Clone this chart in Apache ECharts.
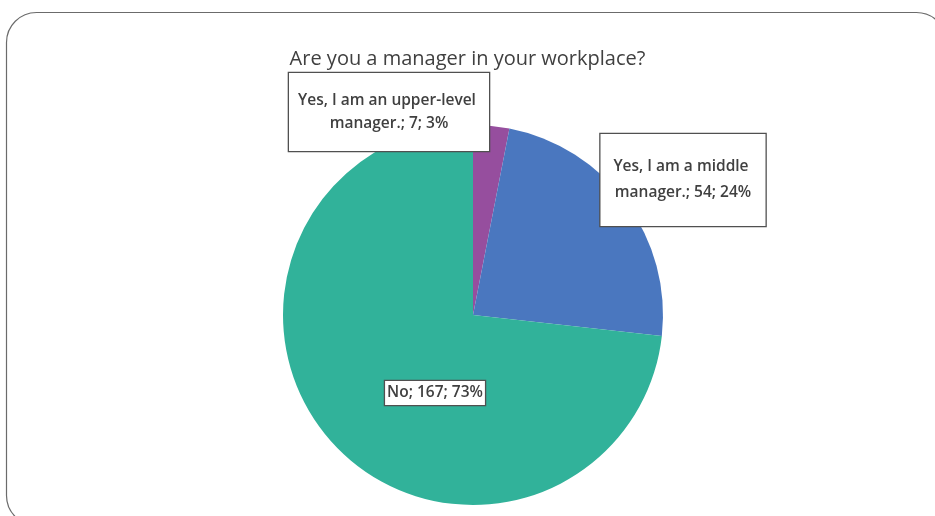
<!DOCTYPE html>
<html>
<head>
<meta charset="utf-8">
<script src="https://cdn.jsdelivr.net/npm/echarts@6/dist/echarts.min.js"></script>
<style>
html,body{margin:0;padding:0;background:#fff;}
#chart{width:935px;height:516px;}
</style>
</head>
<body>
<div id="chart"></div>
<script>
const titleText = "Are you a manager in your workplace?";
const categories = ["Yes, I am an upper-level manager.", "Yes, I am a middle manager.", "No"];
const counts = [7, 54, 167];
const percents = [3, 24, 73];
const colors = ["#964e9e", "#4a77bf", "#31b29a"];

// label box placement (centre of each box) and wrap widths
const labelCentres = [[389, 112], [683, 180], [435, 393]];
const labelBoxes = [
  {width: 186, padding: [16, 7], lineHeight: 23},
  {width: 151, padding: [20, 7], lineHeight: 26},
  {width: null, padding: [3, 2], lineHeight: 18}
];

const chart = echarts.init(document.getElementById('chart'));
const data = categories.map((c, i) => {
  const b = labelBoxes[i];
  const lab = {padding: b.padding, lineHeight: b.lineHeight};
  if (b.width) { lab.width = b.width; lab.overflow = 'break'; }
  return {name: c, value: counts[i], itemStyle: {color: colors[i]}, label: lab};
});

chart.setOption({
  animation: false,
  backgroundColor: '#fff',
  title: {
    text: titleText,
    left: 'center',
    top: 44,
    textStyle: {fontFamily: 'Open Sans', fontSize: 20, fontWeight: 500, color: '#404040'}
  },
  graphic: [{
    type: 'rect',
    shape: {x: 6.5, y: 12.5, width: 940, height: 513, r: 30},
    style: {fill: 'none', stroke: '#6b6b6b', lineWidth: 1.2},
    z: -1
  }],
  series: [{
    type: 'pie',
    center: [473, 315],
    radius: 190,
    startAngle: 90,
    clockwise: true,
    data: data,
    labelLine: {show: false},
    label: {
      show: true,
      position: 'outside',
      formatter: p => p.name + '; ' + p.value + '; ' + percents[p.dataIndex] + '%',
      fontFamily: 'Open Sans',
      fontSize: 15.5,
      fontWeight: 600,
      color: '#404040',
      align: 'center',
      backgroundColor: '#fff',
      borderColor: '#505050',
      borderWidth: 1.3
    },
    labelLayout: function (params) {
      const c = labelCentres[params.dataIndex];
      return {x: c[0], y: c[1], align: 'center', verticalAlign: 'middle'};
    },
    emphasis: {disabled: true}
  }]
});
</script>
</body>
</html>
